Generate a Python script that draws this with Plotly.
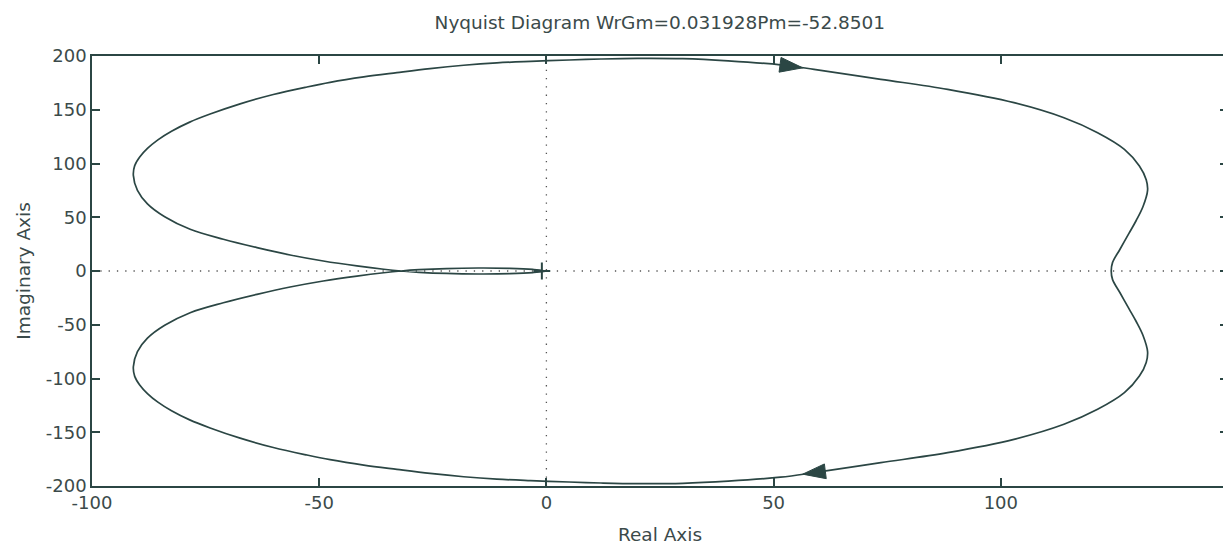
import plotly.graph_objects as go

# Upper branch of the big loop (from the real-axis crossing at -32 around to +124.3)
upper_re = [-32, -35.8, -41.7, -49.1, -56.4, -63.7, -71.1, -78.4, -84.0, -87.8, -90.0, -90.9,
            -90.6, -89.5, -87.8, -85.5, -82.5, -78.5, -74.0, -67.4, -60.1, -52.7, -47.6, -40.2, -32.9,
            -25.6, -18.2, -10.9, -3.5, 5, 12, 20, 30, 40, 51.5, 58.9, 73.6, 88.3, 102.9,
            113.9, 121.3, 127.2, 130.5, 132, 132.3, 131.3, 129.8, 128.2, 126.2, 124.6, 124.3]
upper_im = [0, 1.6, 4.7, 9.3, 14.9, 21.7, 29.5, 38.8, 50.5, 62.5, 75, 89,
            98, 106, 114, 122, 130, 138.5, 146, 155.5, 164.2, 171.2, 175.5, 180.5, 184.5,
            188.3, 191.4, 193.6, 195.0, 196.3, 197.2, 197.8, 197.5, 195.5, 191.8, 187.6, 178.3, 169, 156.6,
            142.6, 128.7, 113.2, 97.7, 85, 75, 60, 47, 35, 20, 8, 0]

# Small loop near the origin (upper arc from the origin to the -32 crossing)
loop_re = [0, -3, -8, -15, -22, -28, -32]
loop_im = [0, 1.5, 2.5, 2.8, 2.3, 1.2, 0]

# Direction arrows: [tail, tip]
arrow_up_re = [50.4, 56.4]
arrow_up_im = [192.4, 189.0]
arrow_dn_re = [62.0, 56.4]
arrow_dn_im = [-186.0, -189.0]

title_text = "Nyquist Diagram WrGm=0.031928Pm=-52.8501"
x_ticks = [-100, -50, 0, 50, 100]
x_ticktext = ["-100", "-50", "0", "50", "100"]
y_ticks = [-200, -150, -100, -50, 0, 50, 100, 150, 200]
y_ticktext = ["-200", "-150", "-100", "-50", "0", "50", "100", "150", "200"]

# Closed path: origin -> lower small arc -> upper big branch -> lower big branch -> upper small arc -> origin
path_re = (loop_re
           + upper_re[1:]
           + upper_re[::-1][1:]
           + loop_re[::-1][1:])
path_im = ([-v for v in loop_im]
           + upper_im[1:]
           + [-v for v in upper_im[::-1]][1:]
           + loop_im[::-1][1:])

line_col = "#2b4644"
text_col = "#3b4a4a"
font_fam = "DejaVu Sans, Liberation Sans, Arial"

fig = go.Figure()
# dotted zero lines
fig.add_trace(go.Scatter(x=[-100, 150], y=[0, 0], mode="lines",
                         line=dict(color="#555", width=1.3, dash="1.3px,7px"), hoverinfo="skip"))
fig.add_trace(go.Scatter(x=[0, 0], y=[-200, 200], mode="lines",
                         line=dict(color="#555", width=1.3, dash="1.3px,7px"), hoverinfo="skip"))
fig.add_trace(go.Scatter(x=path_re, y=path_im, mode="lines",
                         line=dict(color=line_col, width=1.7, shape="spline", smoothing=1.0)))
# critical point marker
fig.add_trace(go.Scatter(x=[-1], y=[0], mode="markers",
                         marker=dict(symbol="cross-thin", size=12, line=dict(color=line_col, width=2))))

# direction arrows
for ar, ai in ((arrow_up_re, arrow_up_im), (arrow_dn_re, arrow_dn_im)):
    fig.add_trace(go.Scatter(x=ar, y=ai, mode="markers",
                             marker=dict(symbol="arrow", size=[0, 24], angleref="previous",
                                         color=line_col, opacity=1,
                                         line=dict(width=1, color=line_col))))

axis_common = dict(showgrid=False, zeroline=False, showline=True, linecolor=line_col, linewidth=1.5,
                   mirror="ticks", ticks="inside", ticklen=8, tickcolor=line_col, tickwidth=1.5,
                   automargin=False,
                   tickfont=dict(family=font_fam, size=18, color=text_col))

# The page body adds an 8px offset, so the figure is sized/margined to compensate.
fig.update_layout(
    width=1223, height=542,
    margin=dict(l=84, r=3, t=48, b=64),
    plot_bgcolor="white", paper_bgcolor="white",
    showlegend=False,
    title=dict(text=title_text, x=0.533, xanchor="center", y=0.974, yanchor="middle",
               yref="container",
               font=dict(family=font_fam, size=18.5, color=text_col)),
    xaxis=dict(range=[-100, 150], tickvals=x_ticks, ticktext=x_ticktext,
               title=dict(text="Real Axis", standoff=16,
                          font=dict(family=font_fam, size=18.5, color=text_col)),
               **axis_common),
    yaxis=dict(range=[-200, 200], tickvals=y_ticks, ticktext=y_ticktext,
               title=dict(text="Imaginary Axis", standoff=10,
                          font=dict(family=font_fam, size=18.5, color=text_col)),
               **axis_common),
)

fig.write_html("out.html")
